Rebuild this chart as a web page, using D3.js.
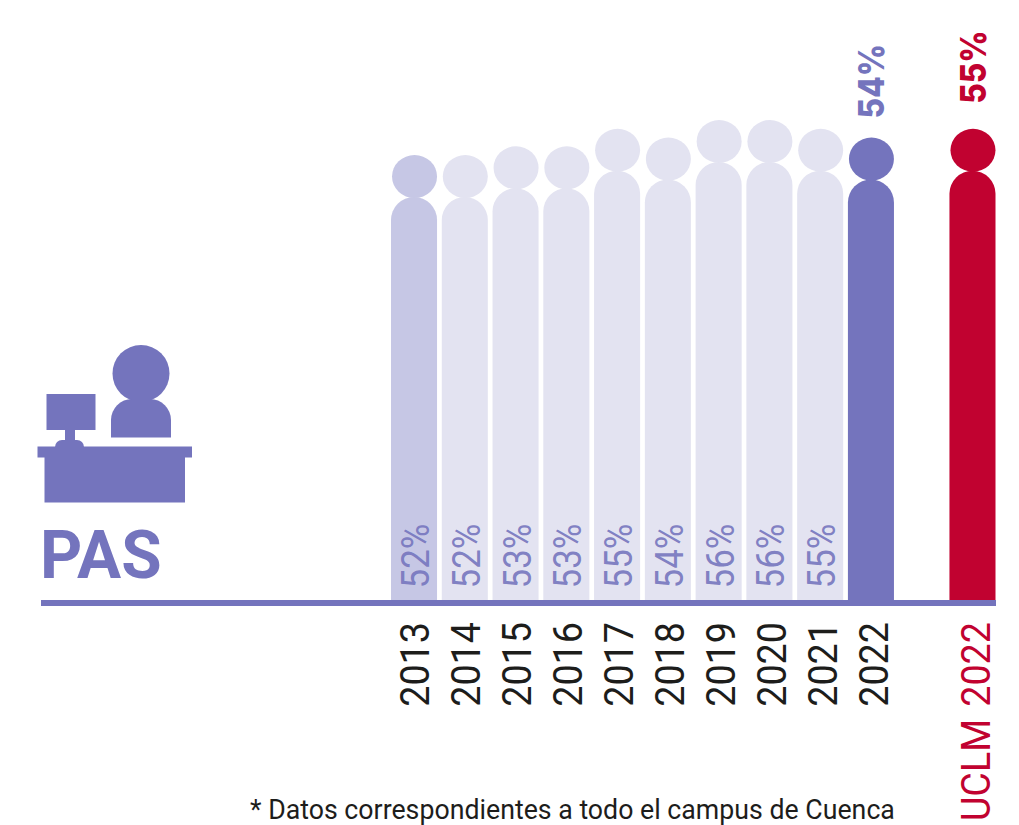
<!DOCTYPE html>
<html>
<head>
<meta charset="utf-8">
<script src="https://cdn.jsdelivr.net/npm/d3@7"></script>
<style>
    body { margin: 0; background: #fff; }
    text { font-family: Roboto, sans-serif; }
</style>
</head>
<body>
<script>
const years = ["2013", "2014", "2015", "2016", "2017", "2018", "2019", "2020", "2021", "2022"];
const values = [52, 52, 53, 53, 55, 54, 56, 56, 55, 54];
const uclmLabel = "UCLM 2022";
const uclmValue = 55;
const title = "PAS";
const footnote = "* Datos correspondientes a todo el campus de Cuenca";

const purple = "#7474bd";
const pale = "#e3e3f1";
const mid = "#c6c7e5";
const red = "#c10230";

const width = 1019;
const height = 825;
const baseline = 600;

const svg = d3.select("body")
    .append("svg")
    .attr("width", width)
    .attr("height", height);

// one empty slot between 2022 and the UCLM bar
const slots = [...years, "gap", uclmLabel];
const x = d3.scaleBand()
    .domain(slots)
    .range([391, 995.5])
    .paddingInner(0.093);

// the year labels run a little wider apart than the bars
const xLabel = x.copy().range([391, 998.5]);

const y = d3.scaleLinear()
    .domain([6, 56])
    .range([baseline, 162]);

const rows = years.map((year, i) => ({
    key: year,
    value: values[i],
    fill: i === 0 ? mid : (year === "2022" ? purple : pale)
}));
rows.push({ key: uclmLabel, value: uclmValue, fill: red });

function bodyPath(left, top, w, bottom) {
    const r = w / 2;
    const p = d3.path();
    p.moveTo(left, bottom);
    p.lineTo(left, top + r);
    p.arc(left + r, top + r, r, Math.PI, 0);
    p.lineTo(left + w, bottom);
    p.closePath();
    return p.toString();
}

const people = svg.append("g")
    .selectAll("g")
    .data(rows)
    .join("g")
    .attr("fill", d => d.fill);

people.append("path")
    .attr("d", d => bodyPath(x(d.key), y(d.value), x.bandwidth(), baseline));

people.append("ellipse")
    .attr("cx", d => x(d.key) + x.bandwidth() / 2 + 0.5)
    .attr("cy", d => y(d.value) - 20.5)
    .attr("rx", 22.5)
    .attr("ry", 21.5);

// baseline
svg.append("rect")
    .attr("x", 41)
    .attr("y", baseline)
    .attr("width", 955)
    .attr("height", 6)
    .attr("fill", purple);

// value labels inside the pale bars
svg.append("g")
    .selectAll("text")
    .data(rows.slice(0, 9))
    .join("text")
    .attr("transform", d => `translate(${x(d.key) + x.bandwidth() / 2 + 15},588.5) rotate(-90) scale(0.92,1)`)
    .attr("font-size", 38)
    .attr("font-weight", 400)
    .attr("fill", purple)
    .attr("fill-opacity", 0.9)
    .text(d => `${d.value}%`);

// highlighted value labels above the heads
svg.append("g")
    .selectAll("text")
    .data(rows.slice(9))
    .join("text")
    .attr("transform", d => `translate(${x(d.key) + x.bandwidth() / 2 + 13.5},${y(d.value) - (d.key === uclmLabel ? 67 : 61)}) rotate(-90) scale(0.875,1)`)
    .attr("font-size", 36)
    .attr("font-weight", 800)
    .style("font-family", "Inter")
    .attr("fill", d => d.fill)
    .text(d => `${d.value}%`);

// category labels come from the band axis
const axis = svg.append("g")
    .attr("transform", `translate(0,${baseline})`)
    .call(d3.axisBottom(xLabel).tickValues([...years, uclmLabel]).tickSize(0));

axis.select(".domain").remove();
axis.selectAll("text")
    .attr("transform", "translate(15,22) rotate(-90) scale(0.92,1)")
    .attr("x", 0)
    .attr("y", 0)
    .attr("dy", 0)
    .attr("text-anchor", "end")
    .attr("font-size", 41)
    .attr("font-weight", 400)
    .attr("font-family", "Roboto")
    .attr("word-spacing", 3)
    .attr("fill", d => d === uclmLabel ? red : "#1d1d1b");

// desk icon
const icon = svg.append("g").attr("fill", purple);
icon.append("circle").attr("cx", 141).attr("cy", 373.5).attr("r", 28.5);
icon.append("path").attr("d", "M111,437.5V420A21,21 0 0 1 132,399H150A21,21 0 0 1 171,420V437.5Z");
icon.append("rect").attr("x", 46.5).attr("y", 394).attr("width", 49).attr("height", 36);
icon.append("rect").attr("x", 65).attr("y", 430).attr("width", 10).attr("height", 12);
icon.append("path").attr("d", "M55,447A7,7 0 0 1 62,440H77A7,7 0 0 1 84,447Z");
icon.append("rect").attr("x", 37.5).attr("y", 446.5).attr("width", 154.5).attr("height", 11);
icon.append("rect").attr("x", 44.5).attr("y", 457).attr("width", 140.5).attr("height", 45.5);

svg.append("text")
    .attr("transform", "translate(40,577.5) scale(0.98,1)")
    .attr("font-size", 67)
    .attr("font-weight", 700)
    .attr("fill", purple)
    .text(title);

svg.append("text")
    .attr("transform", "translate(250,819) scale(0.972,1)")
    .attr("font-size", 27.5)
    .attr("fill", "#1d1d1b")
    .text(footnote);
</script>
</body>
</html>
